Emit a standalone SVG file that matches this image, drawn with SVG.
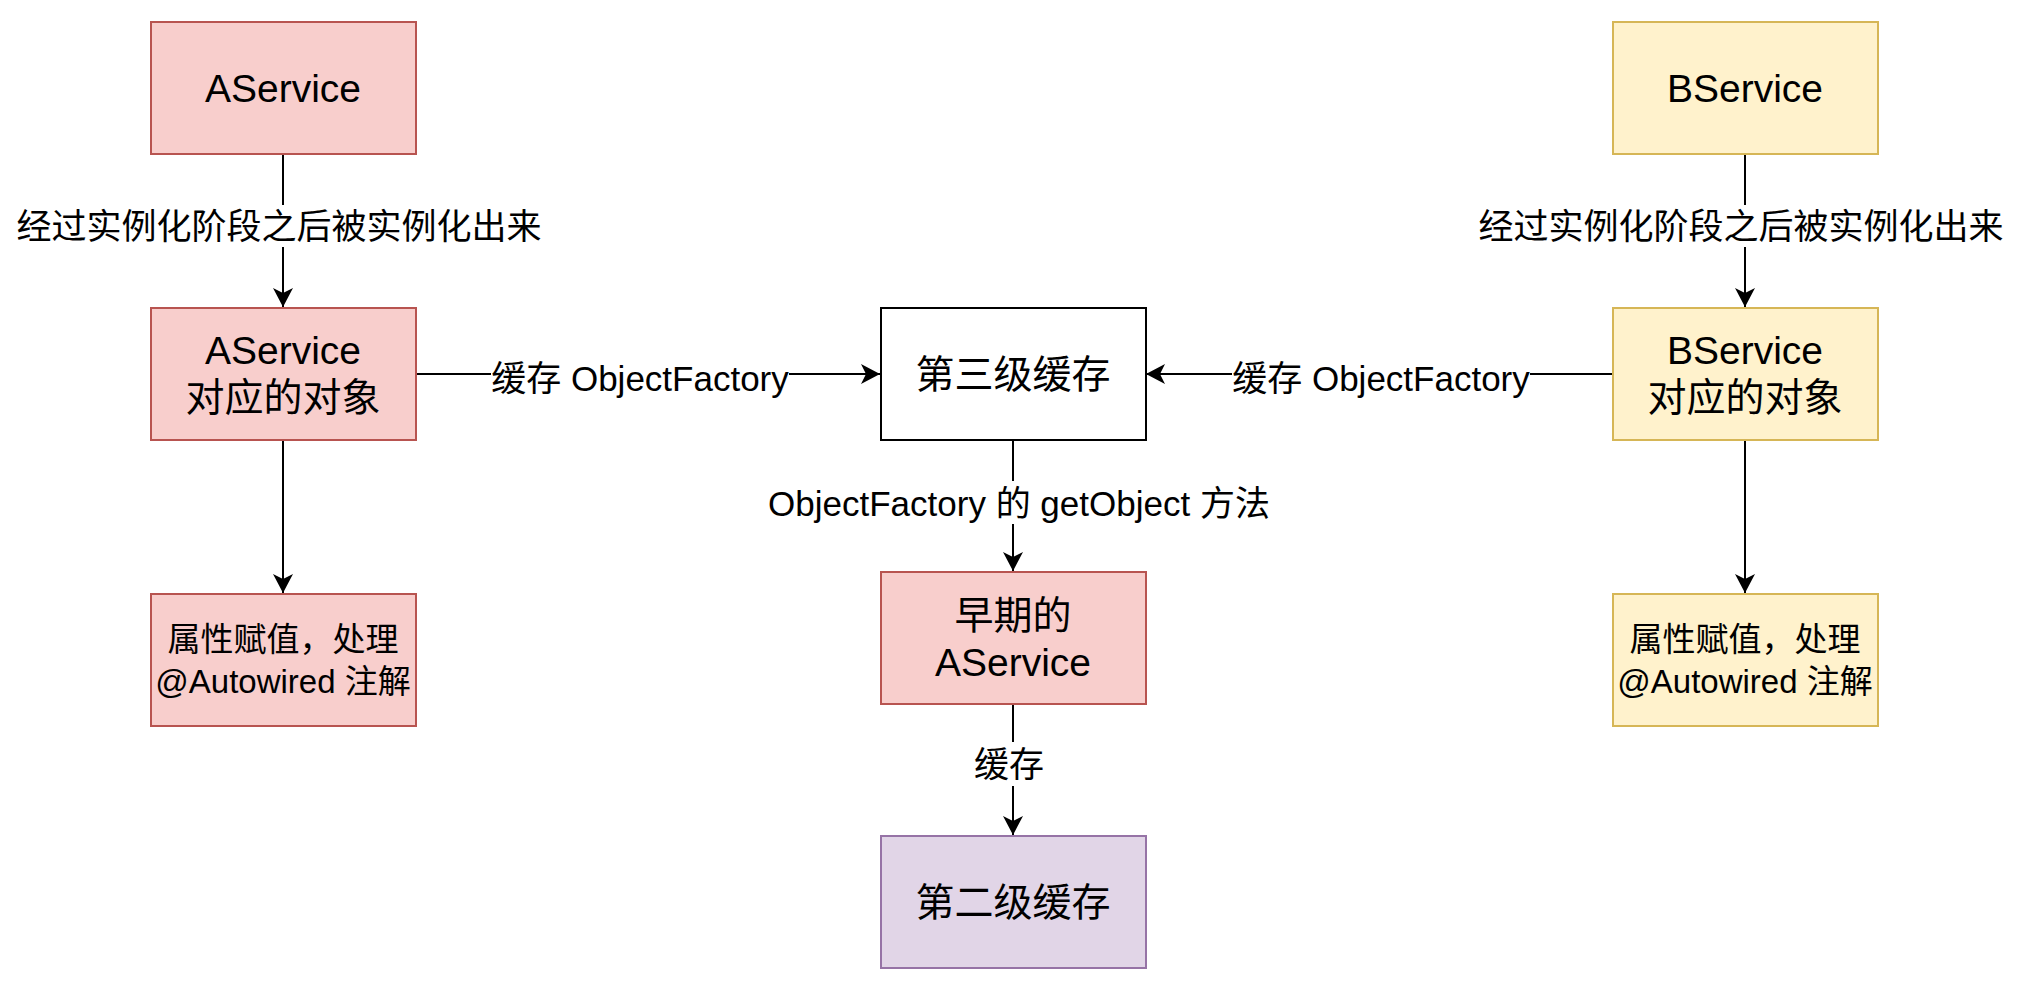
<svg xmlns="http://www.w3.org/2000/svg" width="2022" height="990" viewBox="0 0 2022 990">
<style>
text{font-family:"Liberation Sans","Noto Sans CJK SC",sans-serif;fill:#000;text-anchor:middle}
.n{font-size:39px}
.s{font-size:33px}
.l{font-size:35px}
.red{fill:#f8cecc;stroke:#b85450;stroke-width:2}
.yel{fill:#fff2cc;stroke:#d6b656;stroke-width:2}
.pur{fill:#e1d5e7;stroke:#9673a6;stroke-width:2}
.wht{fill:#ffffff;stroke:#000000;stroke-width:2}
.e{stroke:#000;stroke-width:2;fill:none}
.bg{fill:#ffffff;stroke:none}
</style>
<defs>
<marker id="arr" viewBox="-20 -11 21 22" refX="0" refY="0" markerWidth="21" markerHeight="22" orient="auto" markerUnits="userSpaceOnUse">
<path d="M0,0 L-19,-10 L-14,0 L-19,10 Z" fill="#000"/>
</marker>
</defs>
<rect width="2022" height="990" fill="#ffffff"/>
<g id="connectors">
<line class="e" x1="283" y1="154" x2="283" y2="307" marker-end="url(#arr)"/>
<line class="e" x1="283" y1="440" x2="283" y2="593" marker-end="url(#arr)"/>
<line class="e" x1="1745" y1="154" x2="1745" y2="307" marker-end="url(#arr)"/>
<line class="e" x1="1745" y1="440" x2="1745" y2="593" marker-end="url(#arr)"/>
<line class="e" x1="416" y1="374" x2="880" y2="374" marker-end="url(#arr)"/>
<line class="e" x1="1613" y1="374" x2="1146" y2="374" marker-end="url(#arr)"/>
<line class="e" x1="1013" y1="440" x2="1013" y2="571" marker-end="url(#arr)"/>
<line class="e" x1="1013" y1="704" x2="1013" y2="835" marker-end="url(#arr)"/>
<rect class="bg" x="14" y="205" width="530" height="42"/>
<rect class="bg" x="1476" y="205" width="531" height="42"/>
<rect class="bg" x="491" y="356" width="298" height="42"/>
<rect class="bg" x="1232" y="356" width="298" height="42"/>
<rect class="bg" x="766" y="481" width="506" height="43"/>
<rect class="bg" x="973" y="742" width="72" height="44"/>
<text class="l" x="279" y="239">经过实例化阶段之后被实例化出来</text>
<text class="l" x="1741" y="239">经过实例化阶段之后被实例化出来</text>
<text class="l" x="640" y="391">缓存 ObjectFactory</text>
<text class="l" x="1381" y="391">缓存 ObjectFactory</text>
<text class="l" x="1019" y="516">ObjectFactory 的 getObject 方法</text>
<text class="l" x="1009" y="777">缓存</text>
</g>
<g id="aservice">
<rect class="red" x="151" y="22" width="265" height="132"/>
<text class="n" x="283" y="102">AService</text>
</g>
<g id="aservice-obj">
<rect class="red" x="151" y="308" width="265" height="132"/>
<text class="n" x="283" y="364">AService</text>
<text class="n" x="283" y="411">对应的对象</text>
</g>
<g id="aservice-props">
<rect class="red" x="151" y="594" width="265" height="132"/>
<text class="s" x="283" y="651">属性赋值，处理</text>
<text class="s" x="283" y="693">@Autowired 注解</text>
</g>
<g id="third-cache">
<rect class="wht" x="881" y="308" width="265" height="132"/>
<text class="n" x="1013" y="388">第三级缓存</text>
</g>
<g id="early-aservice">
<rect class="red" x="881" y="572" width="265" height="132"/>
<text class="n" x="1013" y="629">早期的</text>
<text class="n" x="1013" y="676">AService</text>
</g>
<g id="second-cache">
<rect class="pur" x="881" y="836" width="265" height="132"/>
<text class="n" x="1013" y="916">第二级缓存</text>
</g>
<g id="bservice">
<rect class="yel" x="1613" y="22" width="265" height="132"/>
<text class="n" x="1745" y="102">BService</text>
</g>
<g id="bservice-obj">
<rect class="yel" x="1613" y="308" width="265" height="132"/>
<text class="n" x="1745" y="364">BService</text>
<text class="n" x="1745" y="411">对应的对象</text>
</g>
<g id="bservice-props">
<rect class="yel" x="1613" y="594" width="265" height="132"/>
<text class="s" x="1745" y="651">属性赋值，处理</text>
<text class="s" x="1745" y="693">@Autowired 注解</text>
</g>
</svg>
